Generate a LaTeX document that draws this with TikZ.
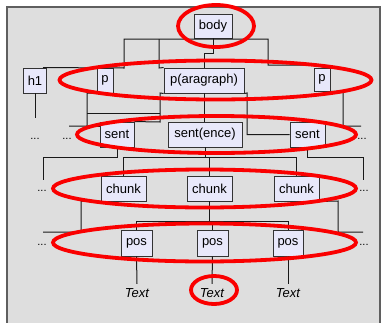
\documentclass[tikz,border=0pt]{standalone}
\usepackage{fontspec}
\setmainfont{Liberation Sans}
\definecolor{boxfill}{RGB}{232,232,250}
\definecolor{bg}{RGB}{222,222,222}
\definecolor{frame}{RGB}{95,95,95}
\definecolor{ringred}{RGB}{250,0,0}
\begin{document}
\begin{tikzpicture}[x=1pt,y=-1pt,
  box/.style={draw=black!80, line width=0.9pt, fill=boxfill, inner sep=0pt, minimum height=25pt, font=\fontsize{13}{15}\selectfont},
  conn/.style={draw=black!90, line width=1pt},
  ring/.style={draw=ringred, line width=3.8pt},
  dots/.style={font=\fontsize{11}{13}\selectfont, inner sep=0pt, anchor=base},
  txt/.style={font=\fontsize{13}{15}\selectfont\itshape, inner xsep=0pt, inner ysep=4pt, anchor=base}]
\useasboundingbox (0,0) rectangle (381,322);
\fill[white] (0,0) rectangle (381,322);
\draw[fill=bg, draw=frame, line width=1.5pt] (7,7) rectangle (380,324);

% nodes
\node[box, minimum width=38pt, minimum height=24pt] (body) at (213,26) {body};
\node[box, minimum width=23pt] (h1) at (35,80.5) {h1};
\node[box, minimum width=16pt] (p1) at (105,80.5) {p};
\node[box, minimum width=80pt] (para) at (204,80.5) {p(aragraph)};
\node[box, minimum width=16pt, minimum height=23pt] (p2) at (322,79.5) {p};
\node[box, minimum width=34pt] (sent1) at (117,134.5) {sent};
\node[box, minimum width=74pt] (sent2) at (205,134.5) {sent(ence)};
\node[box, minimum width=35pt] (sent3) at (307.5,134.5) {sent};
\node[box, minimum width=45pt] (chunk1) at (123.5,188.5) {chunk};
\node[box, minimum width=45pt] (chunk2) at (209.5,188.5) {chunk};
\node[box, minimum width=45pt] (chunk3) at (296.5,188.5) {chunk};
\node[box, minimum width=31pt, minimum height=26pt] (pos1) at (136.5,243) {pos};
\node[box, minimum width=31pt, minimum height=26pt] (pos2) at (212.5,243) {pos};
\node[box, minimum width=30pt, minimum height=26pt] (pos3) at (288,243) {pos};
\node[txt] (t1) at (137,297) {Text};
\node[txt] (t2) at (212,297) {Text};
\node[txt] (t3) at (288,297) {Text};
\node[dots] (d1) at (35,139.5) {...};
\node[dots] (d2) at (67,139.5) {...};
\node[dots] (d3) at (362,139.5) {...};
\node[dots] (d4) at (42,191) {...};
\node[dots] (d5) at (364,191) {...};
\node[dots] (d6) at (42,245.5) {...};
\node[dots] (d7) at (364,245.5) {...};

% connectors level 1
\draw[conn] (body.south) -- ++(0,15) -| (para.north);
\draw[conn] ([xshift=8pt]h1.north) -- (124,68) -- (124,39) -- (268,39) -- (268,65) -| (p2.north);
\draw[conn] (159,39) -- (159,68) -- (para.north west);
% level 2
\draw[conn] (h1.south) -- (35,118);
\draw[conn] (p1.south west) -- (87,93) -- (87,126) -- (69,126);
\draw[conn] (87,126) -- (sent1.west |- 0,126);
\draw[conn] (para.south west) -- (160,93) -- (160,122) -- (sent1.north east);
\draw[conn] (160,113) -- (87,113);
\draw[conn] (para.south) -- (para.south |- sent2.north);
\draw[conn] (para.south east) -- (247,93) -- (247,134.5) -- (sent3.west);
\draw[conn] (p2.south east) -- (343,91) -- (343,126) -- (361,126);
% level 3
\draw[conn] (sent1.south) -- (117,157) -- (43,157) -- (43,180);
\draw[conn] (sent2.south) -- (205,157);
\draw[conn] (chunk1.north) -- (123.5,157) -- (296.5,157) -- (chunk3.north);
\draw[conn] (chunk2.north) -- (209.5,157);
\draw[conn] (sent3.south) -- (307.5,157) -- (363,157) -- (363,180);
% level 4
\draw[conn] (chunk1.south west) -- (81,201) -- (81,232) -- (43,232);
\draw[conn] (chunk2.south) -- (209.5,221);
\draw[conn] (pos1.north) -- (136.5,221) -- (288,221) -- (pos3.north);
\draw[conn] (pos2.north) -- (212.5,221);
\draw[conn] (chunk3.south east) -- (338,201) -- (338,232) -- (363,232);
% level 5
\draw[conn] (pos1.south) -- (t1.north);
\draw[conn] (pos2.south) -- (t2.north);
\draw[conn] (pos3.south) -- (t3.north);

% red rings
\draw[ring] (216,26) ellipse [x radius=38, y radius=21];
\draw[ring] (215.5,80) ellipse [x radius=156, y radius=19.5];
\draw[ring] (216.5,134.5) ellipse [x radius=139.5, y radius=18.5];
\draw[ring] (204.5,188.5) ellipse [x radius=151.5, y radius=19];
\draw[ring] (204.5,242.5) ellipse [x radius=151.5, y radius=19];
\draw[ring] (214,290) ellipse [x radius=23, y radius=14];
\end{tikzpicture}
\end{document}
